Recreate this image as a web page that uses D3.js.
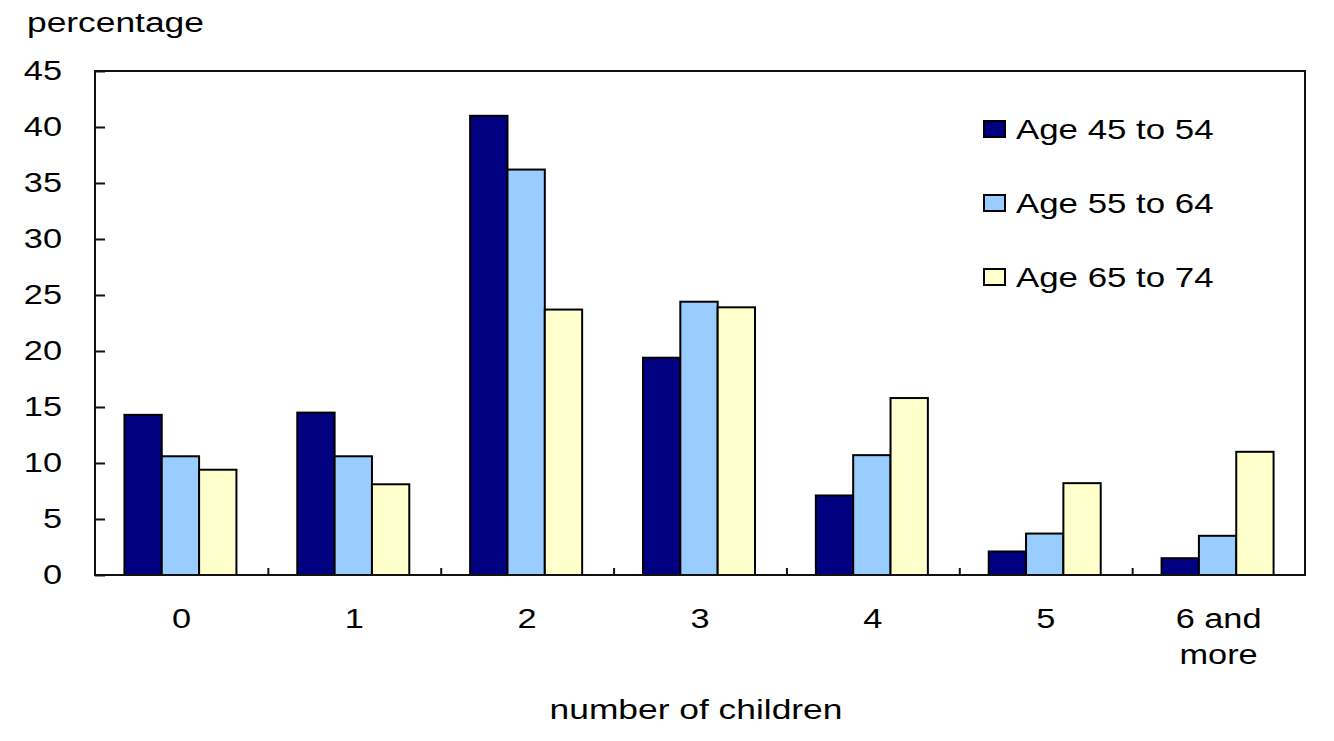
<!DOCTYPE html>
<html>
<head>
<meta charset="utf-8">
<script src="https://cdn.jsdelivr.net/npm/d3@7"></script>
<style>
  html, body { margin: 0; padding: 0; background: #fff; }
  svg text { font-family: "Liberation Sans", Arial, sans-serif; fill: #000; }
</style>
</head>
<body>
<svg id="chart" width="1334" height="741"></svg>
<script>
const categories = ["0", "1", "2", "3", "4", "5", "6 and more"];
const seriesNames = ["Age 45 to 54", "Age 55 to 64", "Age 65 to 74"];
const age45to54 = [14.3, 14.5, 41.0, 19.4, 7.1, 2.1, 1.5];
const age55to64 = [10.6, 10.6, 36.2, 24.4, 10.7, 3.7, 3.5];
const age65to74 = [9.4, 8.1, 23.7, 23.9, 15.8, 8.2, 11.0];
const yTickValues = [0, 5, 10, 15, 20, 25, 30, 35, 40, 45];
const seriesColors = ["#000080", "#99CCFF", "#FFFFCC"];
const yTitle = "percentage";
const xTitle = "number of children";

const seriesValues = [age45to54, age55to64, age65to74];

const plotL = 95, plotR = 1305, plotT = 71, plotB = 575;
const SX = 1.27;      // horizontal text stretch of the original image
const SXT = 1.31;     // stretch for titles
const FS = 27;

const svg = d3.select("#chart");

const x0 = d3.scaleBand().domain(categories).range([plotL, plotR]).padding(0);
const groupW = x0.bandwidth() * 0.648;
const x1 = d3.scaleBand().domain(seriesNames)
  .range([(x0.bandwidth() - groupW) / 2 - 1, (x0.bandwidth() + groupW) / 2 - 1]).padding(0);
const y = d3.scaleLinear().domain([0, 45]).range([plotB, plotT]);

// bars
const groups = svg.append("g").selectAll("g")
  .data(categories)
  .join("g")
  .attr("transform", d => `translate(${x0(d)},0)`);

groups.selectAll("rect")
  .data((c, i) => seriesNames.map((s, j) => ({ s, j, v: seriesValues[j][i] })))
  .join("rect")
  .attr("x", d => x1(d.s))
  .attr("width", x1.bandwidth())
  .attr("y", d => y(d.v))
  .attr("height", d => y(0) - y(d.v))
  .attr("fill", d => seriesColors[d.j])
  .attr("stroke", "#000")
  .attr("stroke-width", 2);

// frame
svg.append("rect")
  .attr("x", plotL).attr("y", plotT)
  .attr("width", plotR - plotL).attr("height", plotB - plotT)
  .attr("fill", "none").attr("stroke", "#111").attr("stroke-width", 2);

// y axis
const yAxis = svg.append("g")
  .attr("transform", `translate(${plotL},0)`)
  .call(d3.axisLeft(y).tickValues(yTickValues).tickSizeInner(-10).tickSizeOuter(0).tickPadding(33));
yAxis.select(".domain").remove();
yAxis.selectAll(".tick line").attr("stroke", "#111").attr("stroke-width", 2);
yAxis.selectAll(".tick text")
  .attr("x", -33 / SX)
  .attr("transform", `scale(${SX},1)`)
  .style("font-size", FS + "px")
  .style("font-family", "'Liberation Sans', Arial, sans-serif")
  .attr("fill", "#000");

// x axis: separators between categories, pointing up
const sepScale = d3.scaleLinear().domain([0, categories.length]).range([plotL, plotR]);
const xAxis = svg.append("g")
  .attr("transform", `translate(0,${plotB})`)
  .call(d3.axisBottom(sepScale).tickValues(d3.range(1, categories.length)).tickSizeInner(-7).tickSizeOuter(0).tickFormat(""));
xAxis.select(".domain").remove();
xAxis.selectAll(".tick line").attr("stroke", "#111").attr("stroke-width", 2);

// x category labels
const lineH = 36;
categories.forEach(c => {
  const words = c === "6 and more" ? ["6 and", "more"] : [c];
  const g = svg.append("g").attr("transform", `translate(${x0(c) + x0.bandwidth() / 2},628)`);
  words.forEach((w, k) => {
    g.append("text")
      .attr("transform", `scale(${SX},1)`)
      .attr("y", k * lineH)
      .attr("text-anchor", "middle")
      .style("font-size", FS + "px")
      .text(w);
  });
});

// titles
svg.append("g").attr("transform", "translate(27,32)")
  .append("text").attr("transform", `scale(${SXT},1)`)
  .style("font-size", FS + "px").text(yTitle);

svg.append("g").attr("transform", `translate(${(plotL + plotR) / 2 - 4},719)`)
  .append("text").attr("transform", `scale(${SXT},1)`)
  .attr("text-anchor", "middle")
  .style("font-size", FS + "px").text(xTitle);

// legend
const legend = svg.append("g");
seriesNames.forEach((s, j) => {
  const cy = 129 + j * 74;
  legend.append("rect")
    .attr("x", 984).attr("y", cy - 8)
    .attr("width", 21).attr("height", 16)
    .attr("fill", seriesColors[j])
    .attr("stroke", "#000").attr("stroke-width", 2);
  legend.append("g").attr("transform", `translate(1016,${cy + 10})`)
    .append("text").attr("transform", `scale(1.29,1)`)
    .style("font-size", FS + "px").text(s);
});
</script>
</body>
</html>
